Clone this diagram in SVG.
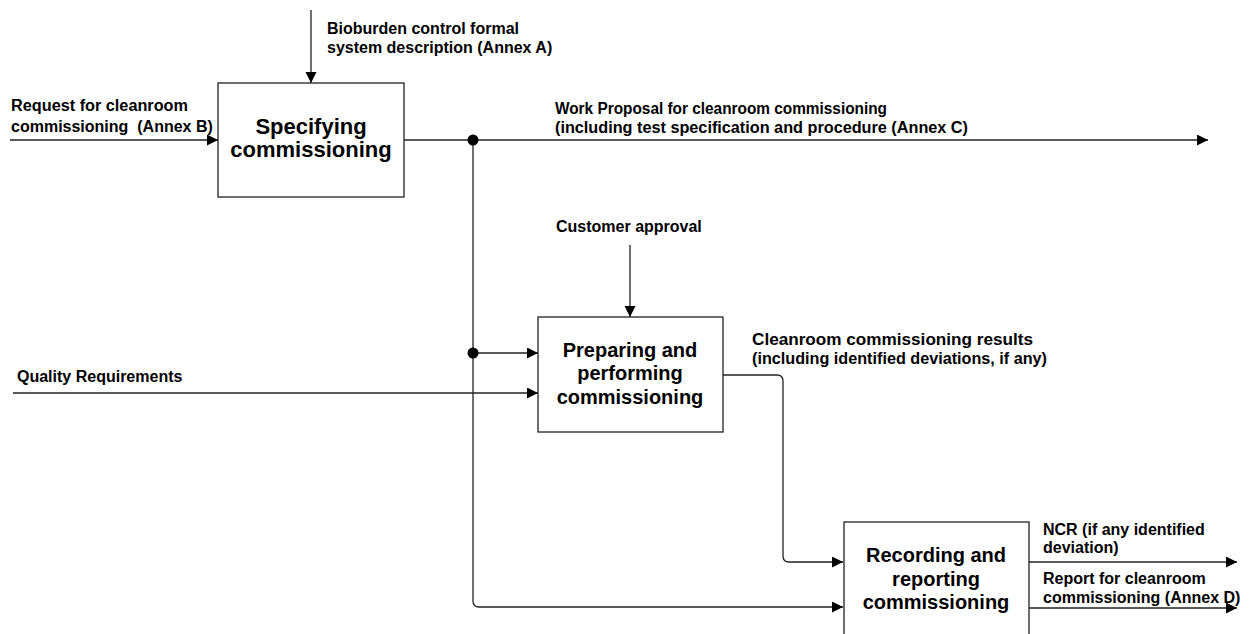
<svg xmlns="http://www.w3.org/2000/svg" width="1251" height="634" viewBox="0 0 1251 634">
<defs>
<marker id="arr" markerUnits="userSpaceOnUse" markerWidth="12" markerHeight="12" refX="11" refY="5.5" orient="auto">
<path d="M0,0 L11,5.5 L0,11 z" fill="#000"/>
</marker>
<style>
.box{fill:#fff;stroke:#222;stroke-width:1.3}
.t{font-family:"Liberation Sans",Arial,sans-serif;font-weight:bold;fill:#000}
.lbl{font-size:16px}
.bt{font-size:20px;text-anchor:middle}
.c{fill:none;stroke:#222;stroke-width:1.3}
.a{marker-end:url(#arr)}
</style>
</defs>
<rect width="1251" height="634" fill="#fff"/>
<g id="connectors">
<path class="c a" d="M10,140 H218"/>
<path class="c a" d="M311,10 V83"/>
<path class="c a" d="M404,140 H1208"/>
<path class="c a" d="M473,140 V601 Q473,607 479,607 H843"/>
<path class="c a" d="M473,353 H538"/>
<path class="c a" d="M13,393 H538"/>
<path class="c a" d="M630,245 V317"/>
<path class="c a" d="M723,375 H777 Q783,375 783,381 V556 Q783,562 789,562 H843"/>
<path class="c a" d="M1029,562 H1237"/>
<path class="c a" d="M1029,608 H1237"/>
<circle cx="473" cy="140" r="5.5" fill="#000"/>
<circle cx="473" cy="353" r="5.5" fill="#000"/>
</g>
<g id="labels">
<text class="t lbl" x="327" y="34">Bioburden control formal</text>
<text class="t lbl" x="327" y="53">system description (Annex A)</text>
<text class="t lbl" x="11" y="111" textLength="177" lengthAdjust="spacingAndGlyphs">Request for cleanroom</text>
<text class="t lbl" x="11" y="132" xml:space="preserve">commissioning  (Annex B)</text>
<text class="t lbl" x="555" y="114" textLength="332" lengthAdjust="spacingAndGlyphs">Work Proposal for cleanroom commissioning</text>
<text class="t lbl" x="555" y="133" textLength="413" lengthAdjust="spacingAndGlyphs">(including test specification and procedure (Annex C)</text>
<text class="t lbl" x="556" y="232">Customer approval</text>
<text class="t lbl" x="752" y="345" textLength="281" lengthAdjust="spacingAndGlyphs">Cleanroom commissioning results</text>
<text class="t lbl" x="752" y="364" textLength="295" lengthAdjust="spacingAndGlyphs">(including identified deviations, if any)</text>
<text class="t lbl" x="17" y="382">Quality Requirements</text>
<text class="t lbl" x="1043" y="535">NCR (if any identified</text>
<text class="t lbl" x="1043" y="553">deviation)</text>
<text class="t lbl" x="1043" y="584">Report for cleanroom</text>
<text class="t lbl" x="1043" y="603">commissioning (Annex D)</text>
</g>
<g id="node-specifying">
<rect class="box" x="218" y="83" width="186" height="114"/>
<text class="t bt" x="311" y="134" style="font-size:22px">Specifying</text>
<text class="t bt" x="311" y="157" style="font-size:22px">commissioning</text>
</g>
<g id="node-preparing">
<rect class="box" x="538" y="317" width="185" height="115"/>
<text class="t bt" x="630" y="357">Preparing and</text>
<text class="t bt" x="630" y="380">performing</text>
<text class="t bt" x="630" y="404">commissioning</text>
</g>
<g id="node-recording">
<rect class="box" x="844" y="522" width="185" height="130"/>
<text class="t bt" x="936" y="562">Recording and</text>
<text class="t bt" x="936" y="586">reporting</text>
<text class="t bt" x="936" y="609">commissioning</text>
</g>
</svg>
